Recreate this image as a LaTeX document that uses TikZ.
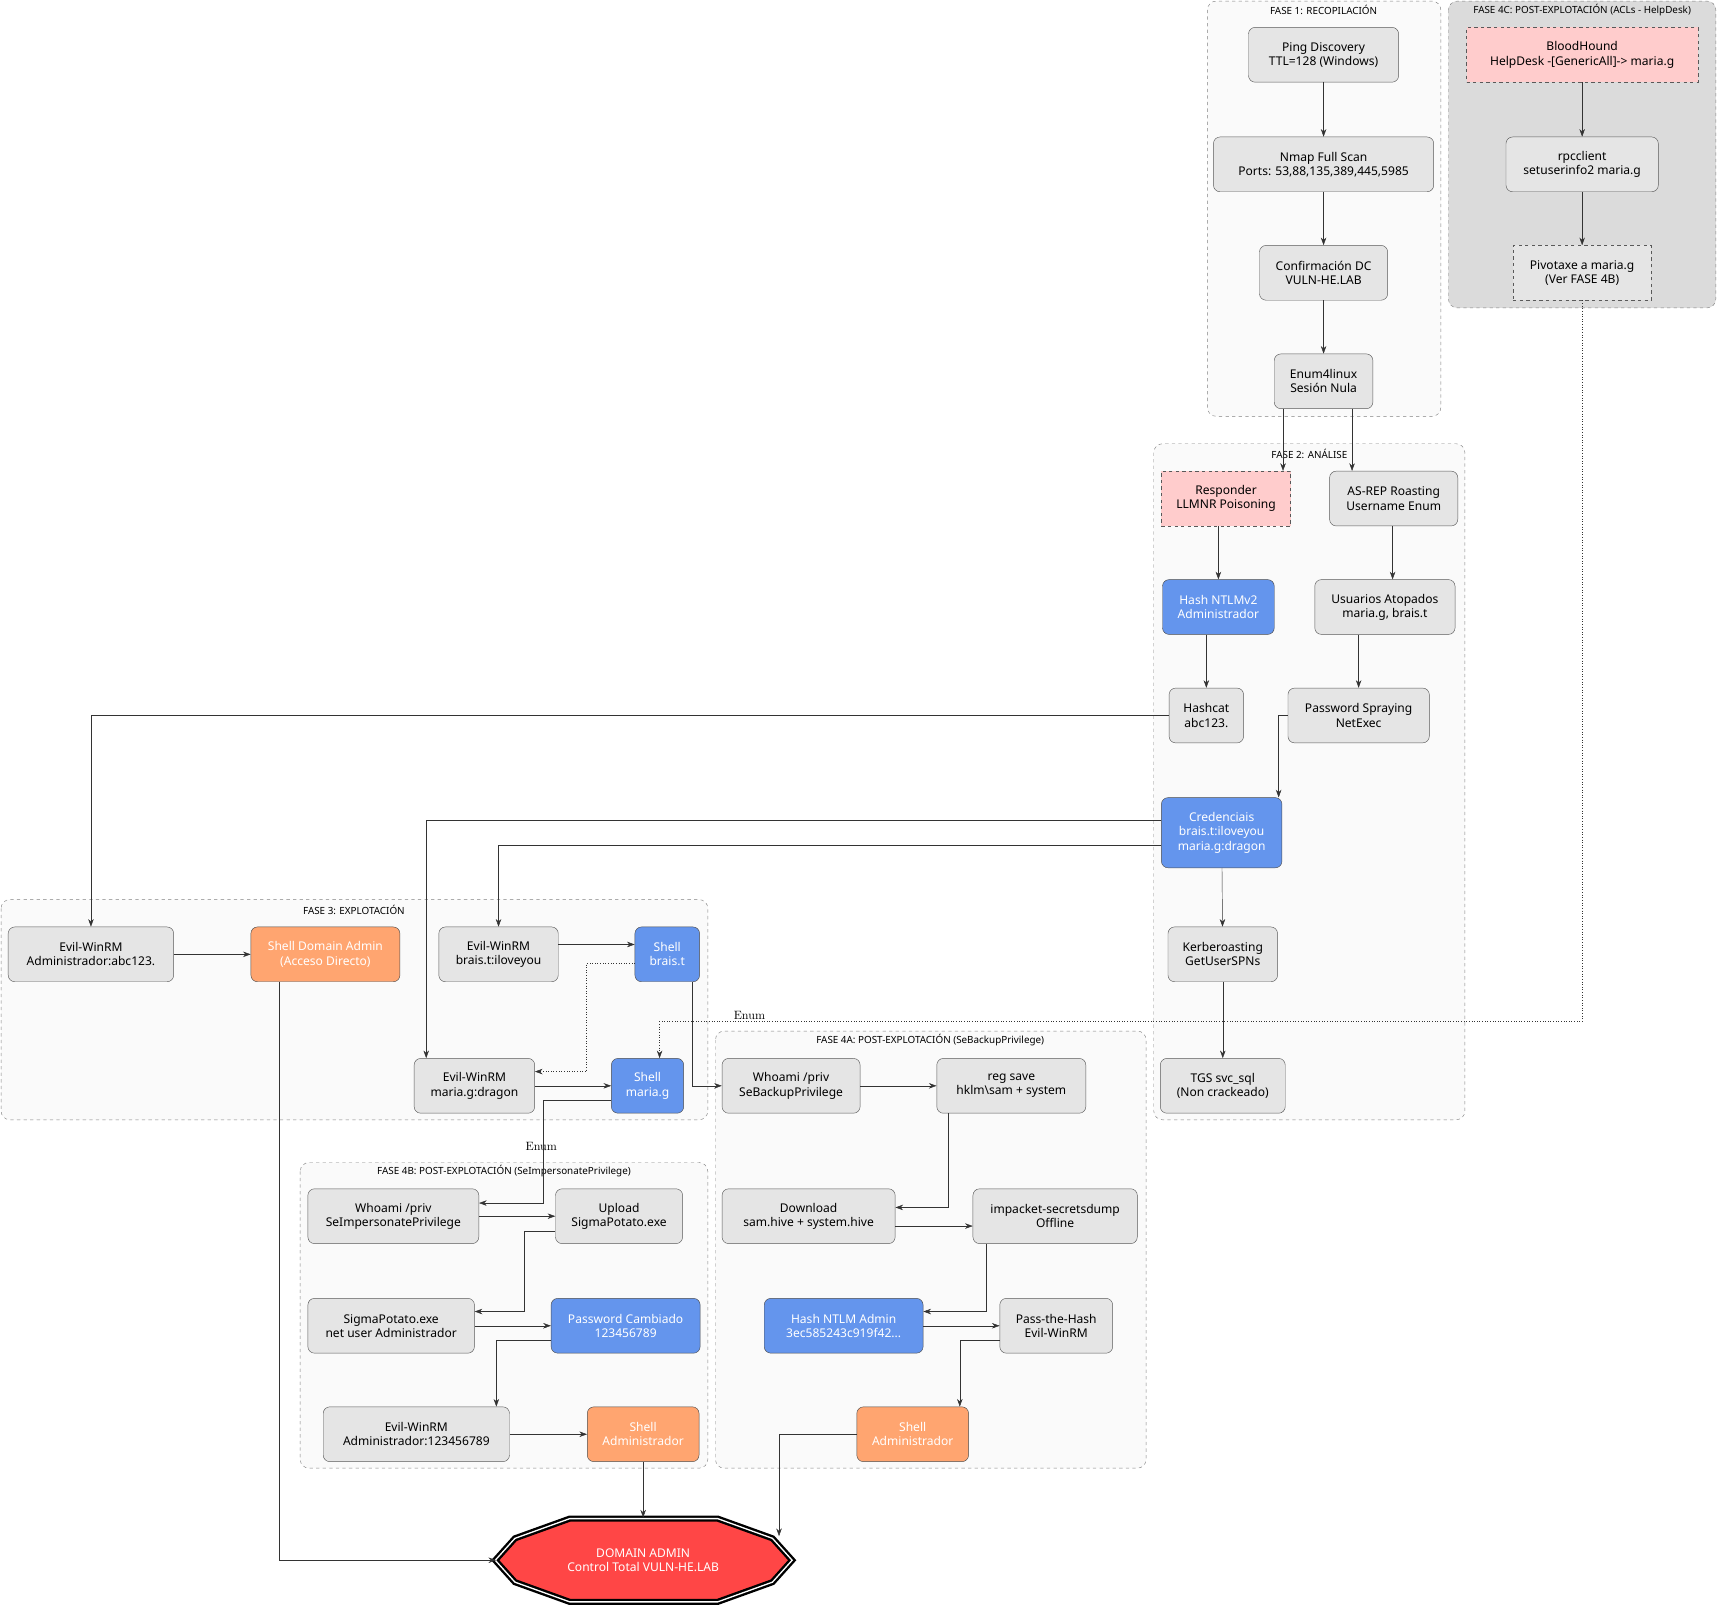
\documentclass[tikz,border=0pt]{standalone}
\usepackage{fontspec}
\setmainfont{Noto Sans}
\newfontfamily\lmfont{Latin Modern Roman}
\usetikzlibrary{arrows.meta,calc}
\definecolor{cblue}{RGB}{100,149,237}
\definecolor{corange}{RGB}{255,165,112}
\definecolor{cpink}{RGB}{255,204,204}
\definecolor{cred}{RGB}{255,70,70}
\begin{document}
\begin{tikzpicture}[x=1pt,y=-1pt,
  box/.style={draw=black!65,fill=black!10,rounded corners=6pt,minimum height=50pt,align=center,font=\fontsize{11}{13}\selectfont,inner sep=2pt},
  pbox/.style={box,fill=cpink,dashed,rounded corners=0pt},
  bbox/.style={box,fill=cblue,text=white,draw=black!70},
  obox/.style={box,fill=corange,text=white,draw=black!70},
  dbox/.style={box,dashed,rounded corners=0pt},
  clus/.style={draw=black!50,dashed,fill=black!2,rounded corners=8pt},
  clab/.style={font=\fontsize{9}{10}\selectfont},
  e/.style={draw=black!80,-{Stealth[length=7pt,width=5pt]}},
  lab/.style={font=\lmfont\fontsize{11}{12}\selectfont}]
\useasboundingbox (0,0) rectangle (1568,1468);
% clusters
\draw[clus] (1102,1) rectangle (1315,380);
\node[clab] at (1208,9) {FASE 1: RECOPILACIÓN};
\draw[clus,fill=black!14] (1322,1) rectangle (1566,281);
\node[clab] at (1444,9) {FASE 4C: POST-EXPLOTACIÓN (ACLs - HelpDesk)};
\draw[clus] (1053,405) rectangle (1337,1022);
\node[clab] at (1195,414) {FASE 2: ANÁLISE};
\draw[clus] (1,821) rectangle (646,1022);
\node[clab] at (323,830) {FASE 3: EXPLOTACIÓN};
\draw[clus] (653,941) rectangle (1046,1340);
\node[clab] at (849,949) {FASE 4A: POST-EXPLOTACIÓN (SeBackupPrivilege)};
\draw[clus] (274,1061) rectangle (646,1340);
\node[clab] at (460,1069) {FASE 4B: POST-EXPLOTACIÓN (SeImpersonatePrivilege)};
% nodes
\node[box,minimum width=137] (ping) at (1208,50) {Ping Discovery\\TTL=128 (Windows)};
\node[box,minimum width=201] (nmap) at (1208,150) {Nmap Full Scan\\Ports: 53,88,135,389,445,5985};
\node[box,minimum width=117] (conf) at (1208,249) {Confirmación DC\\VULN-HE.LAB};
\node[box,minimum width=90] (enum) at (1208,348) {Enum4linux\\Sesión Nula};
\node[pbox,minimum width=211] (blood) at (1444,50) {BloodHound\\HelpDesk -[GenericAll]-> maria.g};
\node[box,minimum width=139] (rpc) at (1444,150) {rpcclient\\setuserinfo2 maria.g};
\node[dbox,minimum width=126] (pivot) at (1444,249) {Pivotaxe a maria.g\\(Ver FASE 4B)};
\node[pbox,minimum width=118] (resp) at (1119,455) {Responder\\LLMNR Poisoning};
\node[box,minimum width=117] (asrep) at (1272,455) {AS-REP Roasting\\Username Enum};
\node[bbox,minimum width=102] (hntlm) at (1112,554) {Hash NTLMv2\\Administrador};
\node[box,minimum width=128] (usu) at (1264,554) {Usuarios Atopados\\maria.g, brais.t};
\node[box,minimum width=68] (hcat) at (1101,653) {Hashcat\\abc123.};
\node[box,minimum width=129] (spray) at (1240,653) {Password Spraying\\NetExec};
\node[bbox,minimum width=110,minimum height=64] (cred) at (1115,760) {Credenciais\\brais.t:iloveyou\\maria.g:dragon};
\node[box,minimum width=100] (kerb) at (1116,871) {Kerberoasting\\GetUserSPNs};
\node[box,minimum width=114] (tgs) at (1116,991) {TGS svc\_sql\\(Non crackeado)};
\node[box,minimum width=151] (ewadm3) at (83,871) {Evil-WinRM\\Administrador:abc123.};
\node[obox,minimum width=136] (shellda) at (297,871) {Shell Domain Admin\\(Acceso Directo)};
\node[box,minimum width=109] (ewbrais) at (455,871) {Evil-WinRM\\brais.t:iloveyou};
\node[bbox,minimum width=59] (shbrais) at (609,871) {Shell\\brais.t};
\node[box,minimum width=110] (ewmaria) at (433,991) {Evil-WinRM\\maria.g:dragon};
\node[bbox,minimum width=66] (shmaria) at (591,991) {Shell\\maria.g};
\node[box,minimum width=126] (who4a) at (722,991) {Whoami /priv\\SeBackupPrivilege};
\node[box,minimum width=136] (reg) at (923,991) {reg save\\hklm\textbackslash sam + system};
\node[box,minimum width=158] (down) at (738,1110) {Download\\sam.hive + system.hive};
\node[box,minimum width=150] (imp) at (963,1110) {impacket-secretsdump\\Offline};
\node[bbox,minimum width=145] (hadm) at (770,1210) {Hash NTLM Admin\\3ec585243c919f42...};
\node[box,minimum width=103] (pth) at (964,1210) {Pass-the-Hash\\Evil-WinRM};
\node[obox,minimum width=102] (sh4a) at (833,1309) {Shell\\Administrador};
\node[box,minimum width=156] (who4b) at (359,1110) {Whoami /priv\\SeImpersonatePrivilege};
\node[box,minimum width=116] (upl) at (565,1110) {Upload\\SigmaPotato.exe};
\node[box,minimum width=152] (sigma) at (357,1210) {SigmaPotato.exe\\net user Administrador};
\node[bbox,minimum width=136] (pwc) at (571,1210) {Password Cambiado\\123456789};
\node[box,minimum width=170] (ewadm4) at (380,1309) {Evil-WinRM\\Administrador:123456789};
\node[obox,minimum width=102] (sh4b) at (587,1309) {Shell\\Administrador};
% domain admin
\filldraw[fill=cred,draw=black,line width=2.2pt,double=white,double distance=1.2pt]
 (452,1424)--(470,1404)--(520,1386)--(655,1386)--(705,1404)--(723,1424)--(705,1444)--(655,1462)--(520,1462)--(470,1444)--cycle;
\node[minimum width=268,minimum height=76,inner sep=0,text=white,align=center,font=\fontsize{11}{13}\selectfont] (dom) at (587,1424) {DOMAIN ADMIN\\Control Total VULN-HE.LAB};
% edges
\draw[e] (ping)--(nmap); \draw[e] (nmap)--(conf); \draw[e] (conf)--(enum);
\draw[e] (enum.south -| 1171,0) -- (resp.north -| 1171,0);
\draw[e] (enum.south -| 1234,0) -- (asrep.north -| 1234,0);
\draw[e] (blood)--(rpc); \draw[e] (rpc)--(pivot);
\draw[e,dotted] (pivot.south) |- (602,932) -- (shmaria.north -| 602,0);
\node[lab] at (684,927) {Enum};
\draw[e] (resp.south -| hntlm) -- (hntlm);
\draw[e] (hntlm.south -| hcat) -- (hcat);
\draw[e] (asrep.south -| 1271,0) -- (usu.north -| 1271,0);
\draw[e] (usu.south -| spray) -- (spray);
\draw[e] (hcat.west) -| (ewadm3.north);
\draw[e] (spray.west) -- (1167,653) -- (cred.north -| 1167,0);
\draw[e] (cred.west |- 0,749) -| (ewmaria.north -| 389,0);
\draw[e] (cred.west |- 0,771) -| (ewbrais.north);
\draw[e] (cred)--(kerb); \draw[e] (kerb)--(tgs);
\draw[e] (ewadm3)--(shellda);
\draw[e] (shellda.south -| 255,0) |- (dom.west);
\draw[e] (ewbrais.east |- 0,862) -- (shbrais.west |- 0,862);
\draw[e,dotted] (shbrais.west |- 0,879) -- (535,879) |- (ewmaria.east |- 0,978);
\draw[e] (shbrais.south -| 632,0) |- (who4a.west);
\draw[e] (ewmaria)--(shmaria);
\draw[e] (shmaria.west |- 0,1004) -- (496,1004) |- (who4b.east |- 0,1098);
\node[lab] at (494,1046) {Enum};
\draw[e] (who4a)--(reg);
\draw[e] (reg.south -| 865,0) |- (down.east |- 0,1102);
\draw[e] (down.east |- 0,1119) -- (imp.west |- 0,1119);
\draw[e] (imp.south -| 900,0) |- (hadm.east |- 0,1197);
\draw[e] (hadm)--(pth);
\draw[e] (pth.west |- 0,1223) -- (876,1223) -- (sh4a.north -| 876,0);
\draw[e] (sh4a.west) -- (711,1309) -- (711,1402);
\draw[e] (who4b)--(upl);
\draw[e] (upl.west |- 0,1124) -- (478,1124) |- (sigma.east |- 0,1197);
\draw[e] (sigma.east |- 0,1210) -- (pwc.west);
\draw[e] (pwc.west |- 0,1223) -- (453,1223) -- (ewadm4.north -| 453,0);
\draw[e] (ewadm4)--(sh4b);
\draw[e] (sh4b.south) -- (587,1385);
\end{tikzpicture}
\end{document}
